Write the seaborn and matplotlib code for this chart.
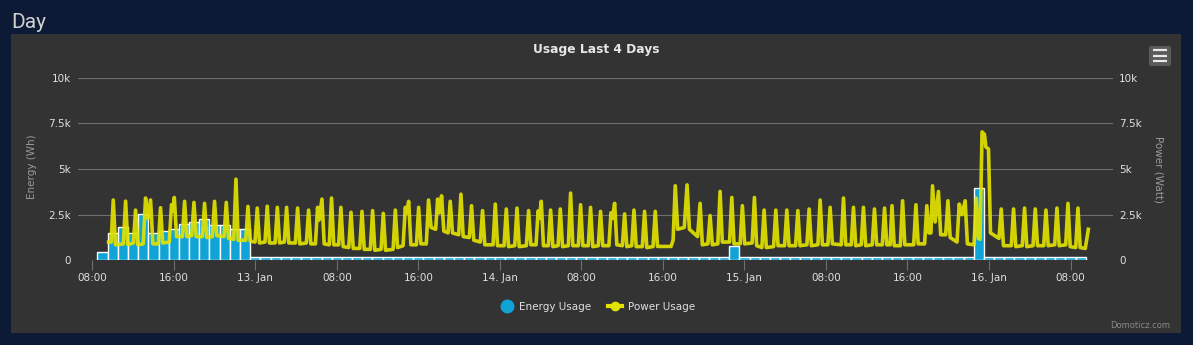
import matplotlib
matplotlib.use("Agg")
import matplotlib.pyplot as plt
import seaborn as sns
import pandas as pd
from matplotlib.patches import Rectangle, FancyBboxPatch
from matplotlib.lines import Line2D

# ---------------- data (hours since 12 Jan 00:00) ----------------
tick_hours = [8, 16, 24, 32, 40, 48, 56, 64, 72, 80, 88, 96, 104]
tick_labels = ["08:00", "16:00", "13. Jan", "08:00", "16:00", "14. Jan", "08:00",
               "16:00", "15. Jan", "08:00", "16:00", "16. Jan", "08:00"]
y_ticks = [0, 2500, 5000, 7500, 10000]
y_labels = ["0", "2.5k", "5k", "7.5k", "10k"]

energy_hours = list(range(9, 106))
energy_wh = [
    430, 1470, 1850, 1470, 2530, 1520, 1600, 1700, 1970, 2080, 2250, 1910, 1910, 1740, 1740,
    200, 200, 200, 200, 200, 200, 200, 200, 200, 200, 200, 200,
    200, 200, 200, 200, 200, 200, 200, 200, 200, 200, 200, 200,
    200, 200, 200, 200, 200, 200, 200, 200, 200, 200, 200, 200,
    200, 200, 200, 200, 200, 200, 200, 200, 200, 200, 200, 800,
    200, 200, 200, 200, 200, 200, 200, 200, 200, 200, 200, 200,
    200, 200, 200, 200, 200, 200, 200, 200, 200, 200, 200, 3950,
    200, 200, 200, 200, 200, 200, 200, 200, 200, 200,
]

power_hours = [
    9.60,
    9.85, 10.06, 10.28, 11.05, 11.27, 11.50, 12.03, 12.25, 12.47,
    13.00, 13.23, 13.45, 13.72, 13.95, 14.48, 14.70, 14.92,
    15.55, 15.78, 15.90, 16.05, 16.27, 16.84, 17.06, 17.28,
    17.76, 17.98, 18.20, 18.80, 19.02, 19.24, 19.78, 20.00, 20.22,
    20.93, 21.15, 21.37, 21.88, 22.10, 22.32, 23.06, 23.28, 23.50,
    23.97, 24.19, 24.41, 24.95, 25.17, 25.39, 25.94, 26.16, 26.38,
    26.85, 27.07, 27.29, 27.93, 28.15, 28.37, 29.01, 29.23, 29.45,
    29.90, 30.11, 30.25, 30.54, 30.76, 31.26, 31.48, 31.70,
    32.18, 32.40, 32.62, 33.17, 33.39, 33.61, 34.25, 34.47, 34.69,
    35.29, 35.51, 35.73, 36.34, 36.56, 36.78, 37.52, 37.74, 37.96,
    38.50, 38.72, 38.85, 39.05, 39.27, 39.81, 40.03, 40.25,
    40.78, 41.00, 41.25, 41.70, 41.89, 42.05, 42.28, 42.50,
    42.91, 43.13, 43.35, 43.96, 44.18, 44.40, 45.00, 45.22, 45.44,
    46.08, 46.30, 46.52, 47.33, 47.55, 47.77, 48.41, 48.63, 48.85,
    49.46, 49.68, 49.90, 50.60, 50.82, 51.04,
    51.55, 51.75, 51.88, 52.06, 52.28, 52.76, 52.98, 53.20,
    53.71, 53.93, 54.15, 54.72, 54.94, 55.16, 55.70, 55.92, 56.14,
    56.68, 56.90, 57.12, 57.66, 57.88, 58.10,
    58.70, 58.90, 59.05, 59.26, 59.48, 60.02, 60.24, 60.46,
    60.94, 61.16, 61.38, 61.98, 62.20, 62.42, 63.03, 63.25, 63.47, 64.80,
    65.00, 65.21, 65.45, 66.10, 66.37, 66.60, 67.40, 67.65, 67.87,
    68.41, 68.63, 68.85, 69.39, 69.61, 69.83, 70.54, 70.76, 70.98,
    71.58, 71.80, 72.02, 72.76, 72.98, 73.20, 73.71, 73.93, 74.15,
    74.86, 75.08, 75.30, 75.94, 76.16, 76.38, 77.02, 77.24, 77.46,
    78.13, 78.35, 78.57, 79.21, 79.43, 79.65, 80.19, 80.41, 80.63,
    81.50, 81.72, 81.94, 82.48, 82.70, 82.92, 83.46, 83.68, 83.90,
    84.54, 84.76, 84.98, 85.53, 85.75, 85.97, 86.30, 86.48, 86.70,
    87.30, 87.52, 87.74, 88.61, 88.83, 89.05, 89.68, 89.90, 90.10,
    90.30, 90.46, 90.72, 91.04, 91.26, 91.75, 91.97, 92.19,
    92.86, 93.08, 93.35, 93.66, 93.88, 94.53, 94.75, 94.95,
    95.12, 95.32, 95.55, 95.70, 95.95, 96.15,
    96.98, 97.20, 97.42, 98.19, 98.41, 98.63, 99.27, 99.49, 99.71,
    100.32, 100.54, 100.76, 101.37, 101.59, 101.81, 102.45, 102.67, 102.89,
    103.53, 103.75, 103.97, 104.51, 104.73, 104.95, 105.45, 105.75,
]
power_watts = [
    1000,
    1000, 3300, 850, 900, 3240, 850, 950, 2750, 850,
    900, 3410, 2300, 3300, 900, 900, 2880, 950,
    1000, 3050, 2700, 3440, 1300, 1300, 3230, 1300,
    1350, 3170, 1300, 1300, 3120, 1250, 1300, 3230, 1350,
    1300, 3170, 1200, 1150, 4440, 1100, 1100, 2950, 1050,
    1000, 2860, 950, 1000, 2960, 950, 950, 2900, 950,
    1000, 2900, 950, 950, 2860, 900, 950, 2750, 900,
    900, 2900, 2200, 3350, 900, 850, 3410, 850,
    850, 2900, 750, 700, 2630, 650, 650, 2680, 600,
    600, 2720, 550, 600, 2570, 550, 600, 2750, 700,
    800, 2900, 2600, 3230, 850, 850, 2900, 900,
    900, 3300, 1800, 1700, 3350, 2600, 3530, 1600,
    1500, 3230, 1500, 1400, 3620, 1300, 1250, 2990, 1100,
    1000, 2720, 850, 850, 3080, 800, 800, 2810, 750,
    800, 2860, 750, 800, 2720, 850,
    850, 2700, 2300, 3230, 800, 800, 2750, 750,
    800, 2810, 750, 800, 3680, 800, 800, 3040, 800,
    800, 2900, 750, 800, 2680, 800,
    800, 2600, 2300, 3120, 850, 800, 2540, 750,
    800, 2750, 750, 750, 2680, 700, 750, 2680, 760, 760,
    1100, 4080, 1700, 1800, 4130, 1700, 1300, 3120, 850,
    900, 2450, 850, 900, 3770, 1000, 1000, 3440, 900,
    900, 2990, 900, 950, 3440, 800, 700, 2750, 700,
    750, 2750, 800, 800, 2750, 800, 800, 2720, 800,
    850, 2810, 800, 850, 3300, 850, 850, 2900, 900,
    850, 3410, 850, 850, 2900, 800, 850, 2900, 800,
    850, 2810, 850, 850, 2860, 850, 850, 2990, 800,
    800, 3260, 850, 850, 3040, 900, 900, 2990, 1500,
    1500, 4080, 2100, 3770, 1400, 1400, 3260, 1250,
    1000, 3080, 2500, 3260, 900, 850, 3400, 1200,
    1150, 7030, 6900, 6200, 6100, 1500,
    1200, 2810, 800, 800, 2810, 750, 800, 2860, 750,
    800, 2810, 800, 800, 2750, 800, 850, 2860, 800,
    850, 3120, 750, 700, 2860, 700, 650, 1700,
]
assert len(power_hours) == len(power_watts)

# ---------------- style ----------------
W, H = 1193, 345
NAVY = "#0c1a35"
PANEL = "#333333"
BAR = "#10a4d6"
YEL = "#e2e200"
TXT = "#e0e0e0"
GRID = "#6e6e6e"
plt.rcParams["font.family"] = ["DejaVu Sans"]

fig = plt.figure(figsize=(W / 100, H / 100), dpi=100, facecolor=NAVY)
fig.patches.append(Rectangle((11 / W, 1 - 333 / H), (1181 - 11) / W, (333 - 34) / H,
                             transform=fig.transFigure, facecolor=PANEL, edgecolor="none",
                             zorder=-10))

left, right, top, bottom = 77.7, 1113, 77.7, 260.3
ax = fig.add_axes([left / W, 1 - bottom / H, (right - left) / W, (bottom - top) / H])
ax.set_facecolor("none")
ax.set_zorder(1)

sns.barplot(x=energy_hours, y=energy_wh, native_scale=True, width=1.0, color=BAR,
            saturation=1, errorbar=None, ax=ax, zorder=2)
for p in ax.patches:
    p.set_edgecolor("white")
    p.set_linewidth(1.0)

ax2 = ax.twinx()
ax2.set_facecolor("none")
ax2.set_zorder(2)
df = pd.DataFrame({"h": power_hours, "w": power_watts})
sns.lineplot(data=df, x="h", y="w", sort=False, estimator=None, color=YEL, linewidth=2.6,
             alpha=0.92, ax=ax2, legend=False)

for a in (ax, ax2):
    a.set_xlim(6.57, 108.17)
    a.set_ylim(0, 10000)
    a.set_yticks(y_ticks)
    a.set_yticklabels(y_labels)
    a.set_xlabel("")
    a.set_ylabel("")
    for s in a.spines.values():
        s.set_visible(False)

ax.set_xticks(tick_hours)
ax.set_xticklabels(tick_labels)
ax.set_axisbelow(True)
ax.grid(axis="y", color=GRID, linewidth=0.8)
ax.grid(axis="x", visible=False)
ax.tick_params(axis="x", length=7, width=0.8, color=GRID, labelcolor=TXT, labelsize=7.5, pad=2)
ax.tick_params(axis="y", length=0, labelcolor=TXT, labelsize=7.5, pad=5)
ax2.tick_params(axis="y", length=0, labelcolor=TXT, labelsize=7.5, pad=4.5)
ax2.grid(False)

# texts
fig.text(11 / W, 1 - 28 / H, "Day", fontsize=15, color="#d0d0d0", va="baseline", ha="left",
         family="Roboto")
fig.text(596 / W, 1 - 50 / H, "Usage Last 4 Days", fontsize=8.8, fontweight="bold",
         color="#e6e6e6", ha="center", va="center")
fig.text(32 / W, 1 - 167 / H, "Energy (Wh)", rotation=90, fontsize=7.5, color="#9a9a9a",
         ha="center", va="center")
fig.text(1159 / W, 1 - 169 / H, "Power (Watt)", rotation=270, fontsize=7.5, color="#9a9a9a",
         ha="center", va="center")
fig.text(1170 / W, 1 - 325 / H, "Domoticz.com", fontsize=6, color="#8a8a8a",
         ha="right", va="center")

# hamburger menu button
fig.patches.append(FancyBboxPatch((11.49, (H - 66) / 100), 0.22, 0.20,
                                  boxstyle="round,pad=0,rounding_size=0.02",
                                  transform=fig.dpi_scale_trans, facecolor="#5a5a5a",
                                  edgecolor="none", zorder=3))
for yy in (50, 55.5, 61):
    fig.add_artist(Line2D([11.53, 11.67], [(H - yy) / 100] * 2, transform=fig.dpi_scale_trans,
                          color="#e8e8e8", linewidth=1.6, solid_capstyle="butt", zorder=4))

# legend
handles = [
    Line2D([], [], linestyle="none", marker="o", markersize=9, markerfacecolor=BAR,
           markeredgecolor=BAR, label="Energy Usage"),
    Line2D([], [], color=YEL, linewidth=3, marker="o", markersize=6, markerfacecolor=YEL,
           markeredgecolor=YEL, label="Power Usage"),
]
fig.legend(handles=handles, loc="center", bbox_to_anchor=(597 / W, 1 - 307 / H), ncol=2,
           frameon=False, labelcolor=TXT, fontsize=7.5, handlelength=1.4, handletextpad=0.5,
           columnspacing=1.6)

fig.savefig("out.png", dpi=100, facecolor=NAVY)
